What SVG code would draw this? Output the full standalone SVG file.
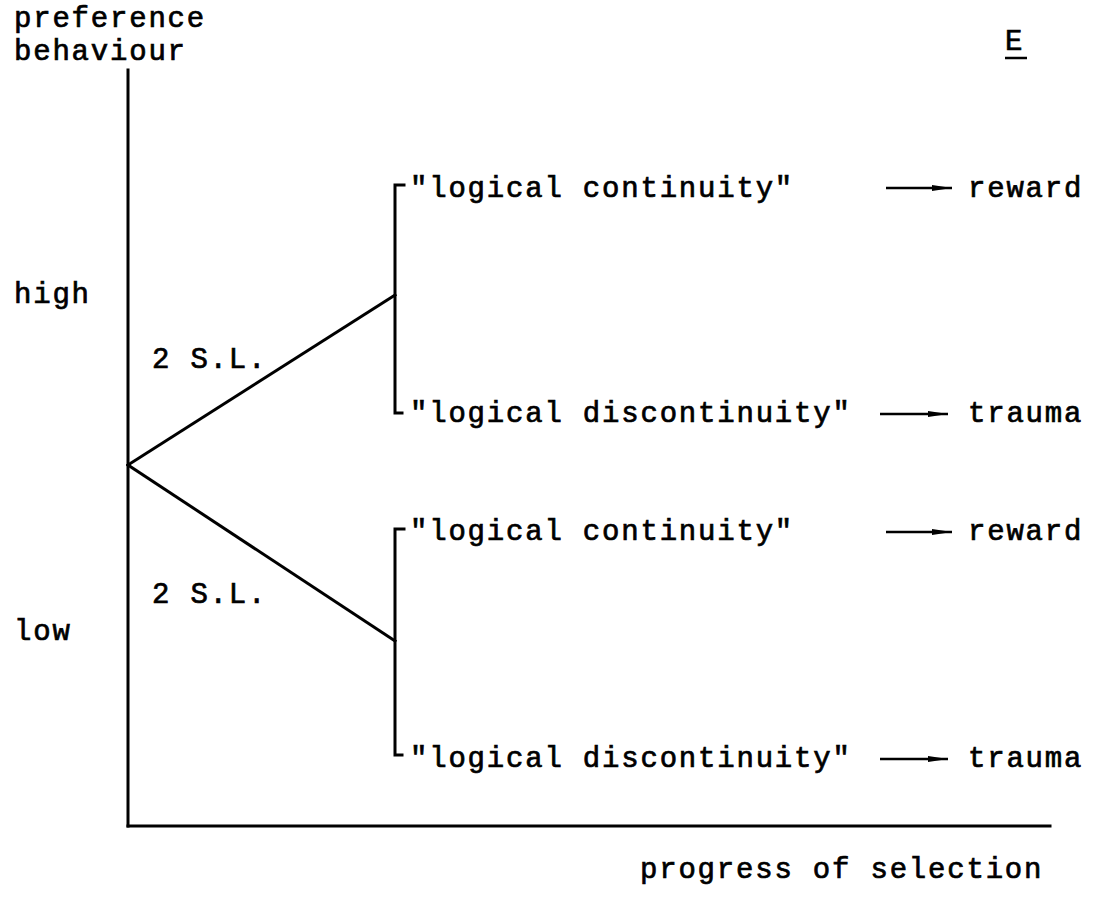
<svg xmlns="http://www.w3.org/2000/svg" width="1100" height="904" viewBox="0 0 1100 904">
  <style>
    .t { font-family: "Liberation Mono", "DejaVu Sans Mono", monospace; font-size: 29px; letter-spacing: 1.8px; fill: #000; stroke: #000; stroke-width: 0.7; }
    .ln { stroke: #000; stroke-width: 3; fill: none; stroke-linecap: square; }
    .ar { stroke: #000; stroke-width: 2.4; fill: none; }
  </style>
  <defs>
    <marker id="head" viewBox="0 0 20 8" refX="20" refY="4" markerWidth="20" markerHeight="8" markerUnits="userSpaceOnUse" orient="auto">
      <path d="M0,1 L20,4 L0,7 Z" fill="#000"/>
    </marker>
  </defs>
  <rect width="1100" height="904" fill="#fff"/>

  <!-- axes -->
  <g id="axes">
    <line class="ln" x1="128" y1="70" x2="128" y2="826"/>
    <line class="ln" x1="128" y1="826" x2="1050" y2="826"/>
    <text class="t" x="14" y="27">preference</text>
    <text class="t" x="14" y="60">behaviour</text>
    <text class="t" x="640" y="878">progress of selection</text>
    <text class="t" x="14" y="303">high</text>
    <text class="t" x="14" y="640">low</text>
  </g>

  <g id="label-E">
    <text class="t" x="1005" y="50">E</text>
    <line x1="1005" y1="58" x2="1027" y2="58" stroke="#000" stroke-width="2.5"/>
  </g>

  <!-- branches from the common origin -->
  <g id="connectors">
    <line class="ln" x1="128" y1="465" x2="395" y2="295"/>
    <line class="ln" x1="128" y1="465" x2="395" y2="641"/>
    <path class="ln" d="M404,185 L395,185 L395,413 L402,413"/>
    <path class="ln" d="M404,529 L395,529 L395,755 L402,755"/>
    <line class="ar" x1="886" y1="188" x2="952" y2="188" marker-end="url(#head)"/>
    <line class="ar" x1="880" y1="414" x2="948" y2="414" marker-end="url(#head)"/>
    <line class="ar" x1="886" y1="532" x2="952" y2="532" marker-end="url(#head)"/>
    <line class="ar" x1="880" y1="759" x2="948" y2="759" marker-end="url(#head)"/>
  </g>

  <g id="upper-branch">
    <text class="t" x="152" y="368">2 S.L.</text>
  </g>
  <g id="lower-branch">
    <text class="t" x="152" y="603">2 S.L.</text>
  </g>

  <g id="upper-continuity">
    <text class="t" x="410" y="197">"logical continuity"</text>
    <text class="t" x="968" y="197">reward</text>
  </g>
  <g id="upper-discontinuity">
    <text class="t" x="410" y="422">"logical discontinuity"</text>
    <text class="t" x="968" y="422">trauma</text>
  </g>
  <g id="lower-continuity">
    <text class="t" x="410" y="540">"logical continuity"</text>
    <text class="t" x="968" y="540">reward</text>
  </g>
  <g id="lower-discontinuity">
    <text class="t" x="410" y="767">"logical discontinuity"</text>
    <text class="t" x="968" y="767">trauma</text>
  </g>
</svg>
